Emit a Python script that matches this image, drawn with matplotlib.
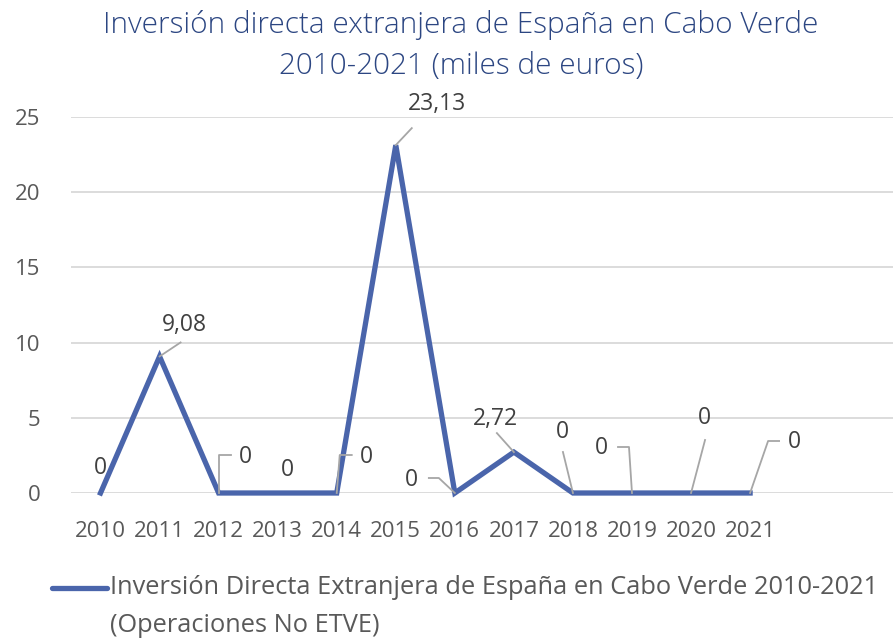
import numpy as np
from matplotlib import pyplot as plt
from matplotlib.lines import Line2D
from matplotlib import rcParams
rcParams['font.family'] = 'Open Sans'

years = ['2010', '2011', '2012', '2013', '2014', '2015', '2016', '2017', '2018', '2019', '2020', '2021']
values = [0, 9.08, 0, 0, 0, 23.13, 0, 2.72, 0, 0, 0, 0]
labels = ['0', '9,08', '0', '0', '0', '23,13', '0', '2,72', '0', '0', '0', '0']

# label offsets (px, from point) and leader polylines (px offsets)
lab_off = [(0, 25), (25, 31), (27, 36), (10, 23), (30, 36), (41, 41),
           (-43, 13), (-18, 33), (-11, 61), (-31, 45), (13, 75), (44, 51)]
leaders = [None,
           [(0, 0), (21, 14)],
           [(0, 0), (0, 38), (12, 38)],
           None,
           [(0, 0), (3, 38), (15, 38)],
           [(0, 0), (16, 17)],
           [(0, 0), (-16, 15), (-26, 15)],
           [(0, 0), (-17, 19)],
           [(0, 0), (-10, 41)],
           [(0, 0), (-3, 46), (-14, 46)],
           [(0, 0), (14, 53)],
           [(0, 0), (18, 52), (29, 52)]]

blue = '#4A65AB'
grey = '#595959'

fig = plt.figure(figsize=(8.93, 6.39), dpi=100)
ax = fig.add_axes([71 / 893, 1 - 493 / 639, 1 - 71 / 893, (493 - 117) / 639])
x = np.arange(len(years))
ax.plot(x, values, color=blue, lw=3.8, solid_joinstyle='miter', clip_on=False, zorder=3)
ax.set_xlim(-0.5, 13.42)
ax.set_ylim(0, 25)
ax.set_yticks([0, 5, 10, 15, 20, 25])
ax.set_xticks(x)
ax.set_xticklabels(years)
ax.yaxis.grid(True, color='#D9D9D9', lw=1.3)
ax.set_axisbelow(True)
for s in ax.spines.values():
    s.set_visible(False)
ax.tick_params(length=0, labelsize=16, labelcolor=grey)
ax.tick_params(axis='x', pad=20)
ax.tick_params(axis='y', pad=22)

fig.canvas.draw()
for i in range(len(years)):
    px, py = ax.transData.transform((x[i], values[i]))
    dx, dy = lab_off[i]
    fig.text((px + dx) / 893, (py + dy) / 639, labels[i], ha='center', va='center',
             fontsize=16.5, color='#404040')
    if leaders[i]:
        xs = [(px + a) / 893 for a, b in leaders[i]]
        ys = [(py + b) / 639 for a, b in leaders[i]]
        fig.add_artist(Line2D(xs, ys, color='#A6A6A6', lw=1.3, zorder=4))

fig.text(461 / 893, 1 - 25 / 639, 'Inversión directa extranjera de España en Cabo Verde',
         ha='center', va='center', fontsize=21.4, color='#2C4682', fontweight='light')
fig.text(461 / 893, 1 - 66 / 639, '2010-2021 (miles de euros)',
         ha='center', va='center', fontsize=21.4, color='#2C4682', fontweight='light')

fig.add_artist(Line2D([52 / 893, 107 / 893], [1 - 588 / 639, 1 - 588 / 639], color=blue, lw=3.8,
                      solid_capstyle='round'))
fig.text(110 / 893, 1 - 588 / 639, 'Inversión Directa Extranjera de España en Cabo Verde 2010-2021',
         ha='left', va='center', fontsize=18.3, color=grey)
fig.text(110 / 893, 1 - 626 / 639, '(Operaciones No ETVE)',
         ha='left', va='center', fontsize=18.3, color=grey)

fig.savefig('out.png', dpi=100)
